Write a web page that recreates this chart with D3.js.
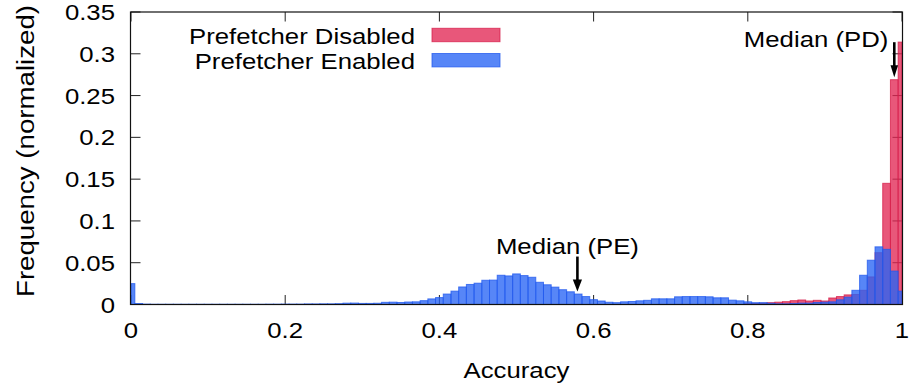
<!DOCTYPE html>
<html>
<head>
<meta charset="utf-8">
<script src="https://cdn.jsdelivr.net/npm/d3@7/dist/d3.min.js"></script>
<style>
  html, body { margin: 0; padding: 0; background: #fff; }
  svg { display: block; }
  text { font-family: "Liberation Sans", Arial, Helvetica, sans-serif; fill: #000; }
</style>
</head>
<body>
<svg id="chart" width="912" height="388"></svg>
<script>
// Histogram bins: width 0.01, centred on 0.00, 0.01, ..., 1.00
const binWidth = 0.01;

// Normalised frequency per bin, prefetcher enabled
const enabledFreq = [
  0.025, 0.0012, 0.0005, 0.0003, 0.0003, 0.0003, 0.0003, 0.0003, 0.0003, 0.0003,
  0.0003, 0.0003, 0.0003, 0.0003, 0.0003, 0.0003, 0.0003, 0.0003, 0.0004, 0.0004,
  0.0005, 0.0005, 0.0005, 0.0007, 0.0007, 0.0008, 0.0008, 0.0010, 0.0016, 0.0017,
  0.0013, 0.0013, 0.0015, 0.0026, 0.0028, 0.0024, 0.0030, 0.0032, 0.0046, 0.0067,
  0.0083, 0.0125, 0.0160, 0.0210, 0.0240, 0.0255, 0.0290, 0.0292, 0.0350, 0.0342,
  0.0366, 0.0346, 0.0326, 0.0266, 0.0236, 0.0208, 0.0177, 0.0152, 0.0125, 0.0095,
  0.0058, 0.0042, 0.0027, 0.0022, 0.0032, 0.0036, 0.0044, 0.0050, 0.0068, 0.0068,
  0.0068, 0.0092, 0.0095, 0.0095, 0.0095, 0.0092, 0.0080, 0.0080, 0.0052, 0.0044,
  0.0032, 0.0022, 0.0022, 0.0015, 0.0008, 0.0008, 0.0012, 0.0016, 0.0016, 0.0024,
  0.0028, 0.0032, 0.0056, 0.0088, 0.0170, 0.0350, 0.0530, 0.0690, 0.0660, 0.0400,
  0.0160
];

// Normalised frequency per bin, prefetcher disabled
const disabledFreq = [
  0, 0, 0, 0, 0, 0, 0, 0, 0, 0,
  0, 0, 0, 0, 0, 0, 0, 0, 0, 0,
  0, 0, 0, 0, 0, 0, 0, 0, 0, 0,
  0, 0, 0, 0, 0, 0, 0, 0, 0, 0,
  0, 0, 0, 0, 0, 0, 0, 0, 0, 0,
  0, 0, 0, 0, 0, 0, 0, 0, 0, 0,
  0, 0, 0, 0, 0, 0, 0, 0, 0, 0,
  0, 0, 0, 0, 0, 0, 0, 0, 0, 0,
  0.0010, 0.0012, 0.0015, 0.0022, 0.0028, 0.0034, 0.0046, 0.0054, 0.0042, 0.0050,
  0.0042, 0.0078, 0.0095, 0.0115, 0.0120, 0.0170, 0.0330, 0.0620, 0.1450, 0.2690,
  0.3140
];

const seriesNames = ["Prefetcher Disabled", "Prefetcher Enabled"];

// Medians of the two distributions
const medianNames = ["Median (PE)", "Median (PD)"];
const medianValues = [0.579, 0.99];

const xTicks = [0, 0.2, 0.4, 0.6, 0.8, 1];
const xTickLabels = ["0", "0.2", "0.4", "0.6", "0.8", "1"];
const yTicks = [0, 0.05, 0.1, 0.15, 0.2, 0.25, 0.3, 0.35];
const yTickLabels = ["0", "0.05", "0.1", "0.15", "0.2", "0.25", "0.3", "0.35"];

const xTitle = "Accuracy";
const yTitle = "Frequency (normalized)";

// ---------------------------------------------------------------
const plot = { left: 131, right: 902, top: 12, bottom: 304.5 };
const FONT = 22;
const WIDE = 1.17;           // horizontal glyph stretch of the labels

const colors = {
  disabled: { fill: "rgb(225,40,85)", stroke: "rgb(214,28,72)" },
  enabled:  { fill: "rgb(40,100,245)", stroke: "rgb(32,88,238)" }
};

const svg = d3.select("#chart");
const x = d3.scaleLinear().domain([0, 1]).range([plot.left, plot.right]);
const y = d3.scaleLinear().domain([0, 0.35]).range([plot.bottom, plot.top]);

function stretchedText(g, tx, ty, str, anchor, sx) {
  return g.append("text")
    .attr("transform", `translate(${tx},${ty}) scale(${sx},1)`)
    .attr("text-anchor", anchor)
    .style("font-size", FONT + "px")
    .text(str);
}

// tick marks (inward, mirrored on all four sides) drawn beneath the bars
const tickLen = 9.5;
const ticks = svg.append("g").attr("stroke", "#222").attr("stroke-width", 1);
xTicks.forEach(v => {
  ticks.append("line").attr("x1", x(v)).attr("x2", x(v)).attr("y1", plot.bottom).attr("y2", plot.bottom - tickLen);
  ticks.append("line").attr("x1", x(v)).attr("x2", x(v)).attr("y1", plot.top).attr("y2", plot.top + tickLen);
});
yTicks.forEach(v => {
  ticks.append("line").attr("x1", plot.left).attr("x2", plot.left + tickLen).attr("y1", y(v)).attr("y2", y(v));
  ticks.append("line").attr("x1", plot.right).attr("x2", plot.right - tickLen).attr("y1", y(v)).attr("y2", y(v));
});

// histogram bars, clipped to [0, 1]
function binsOf(values) {
  return values.map((v, k) => {
    const c = k * binWidth;
    return { v, x0: Math.max(0, c - binWidth / 2), x1: Math.min(1, c + binWidth / 2) };
  }).filter(d => d.v > 0);
}

function drawBars(values, col) {
  svg.append("g").selectAll("rect")
    .data(binsOf(values))
    .join("rect")
    .attr("x", d => x(d.x0))
    .attr("width", d => x(d.x1) - x(d.x0))
    .attr("y", d => y(d.v))
    .attr("height", d => y(0) - y(d.v))
    .attr("fill", col.fill)
    .attr("fill-opacity", 0.78)
    .attr("stroke", col.stroke)
    .attr("stroke-opacity", 0.75)
    .attr("stroke-width", 1);
}
drawBars(disabledFreq, colors.disabled);
drawBars(enabledFreq, colors.enabled);

// plot border
svg.append("rect")
  .attr("x", plot.left - 0.5).attr("y", plot.top)
  .attr("width", plot.right - plot.left + 1).attr("height", plot.bottom - plot.top)
  .attr("fill", "none").attr("stroke", "#111").attr("stroke-width", 1.2);

// tick labels
const labels = svg.append("g");
yTicks.forEach((v, i) => stretchedText(labels, 115, y(v) + 8, yTickLabels[i], "end", WIDE));
xTicks.forEach((v, i) => stretchedText(labels, x(v), 338, xTickLabels[i], "middle", WIDE));

// axis titles
stretchedText(labels, (plot.left + plot.right) / 2, 378, xTitle, "middle", WIDE);
labels.append("text")
  .attr("transform", `translate(34,151) rotate(-90)`)
  .attr("text-anchor", "middle")
  .attr("textLength", 292)
  .attr("lengthAdjust", "spacingAndGlyphs")
  .style("font-size", "23px")
  .text(yTitle);

// legend
const legend = svg.append("g");
[colors.disabled, colors.enabled].forEach((col, i) => {
  const base = 43.8 + i * 25.2;
  stretchedText(legend, 415, base, seriesNames[i], "end", WIDE);
  legend.append("rect")
    .attr("x", 432).attr("y", base - 15.5).attr("width", 68).attr("height", 13.4)
    .attr("fill", col.fill).attr("fill-opacity", 0.78)
    .attr("stroke", col.stroke).attr("stroke-opacity", 0.75).attr("stroke-width", 1);
});

// median arrows pointing at the bar containing each median
const medianSeries = [enabledFreq, disabledFreq];
const arrows = svg.append("g");
medianValues.forEach((m, i) => {
  const k = Math.round(m / binWidth);
  const ax = x(m);
  const tip = y(medianSeries[i][k]) - 2.5;
  const len = 35, headLen = 12, headW = i === 0 ? 4.6 : 3.8;
  arrows.append("line")
    .attr("x1", ax).attr("x2", ax).attr("y1", tip - len).attr("y2", tip - headLen + 1)
    .attr("stroke", "#000").attr("stroke-width", 2.6);
  arrows.append("path")
    .attr("d", `M${ax - headW},${tip - headLen} L${ax + headW},${tip - headLen} L${ax},${tip} Z`)
    .attr("fill", "#000");
  if (i === 0) {
    stretchedText(arrows, ax - 10, tip - len - 3, medianNames[i], "middle", WIDE);
  } else {
    stretchedText(arrows, ax - 6, 46.5, medianNames[i], "end", WIDE);
  }
});
</script>
</body>
</html>
